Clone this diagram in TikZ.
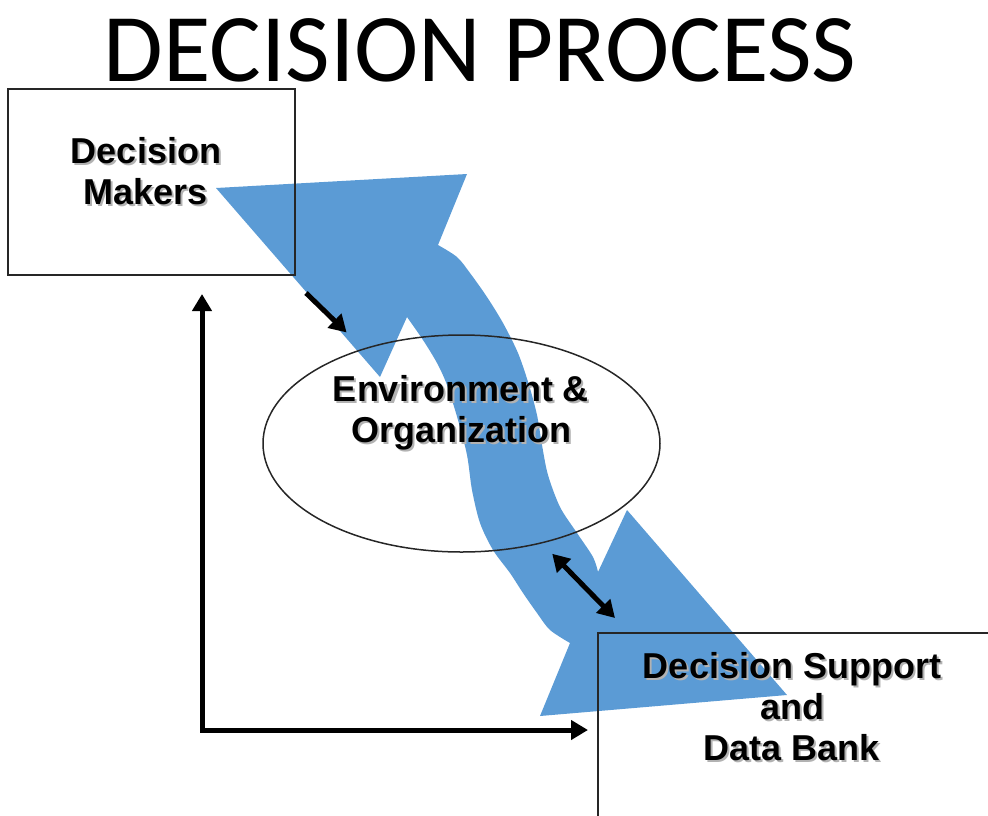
\documentclass[tikz,border=0pt]{standalone}
\usepackage{fontspec}
\setmainfont{Liberation Sans}
\newfontfamily\titlefont{Carlito}
\usetikzlibrary{arrows.meta,positioning,calc,shapes.geometric}
\definecolor{flowblue}{RGB}{91,155,213}
% text with a soft drop shadow
\newcommand{\shtxt}[1]{\leavevmode\rlap{\kern2pt\raisebox{-2pt}{\textcolor{black!30}{#1}}}#1}

\begin{document}
\begin{tikzpicture}[x=1pt,y=-1pt,
box/.style={rectangle,draw=black!85,line width=2pt,inner sep=0pt},
ring/.style={ellipse,draw=black!85,line width=1.5pt,inner sep=0pt},
lbl/.style={align=center,inner sep=0pt,anchor=north,font=\bfseries\fontsize{36}{41}\selectfont},
link/.style={line width=5pt,-{Triangle[width=19pt,length=17pt]}},
twoway/.style={line width=5pt,{Triangle[width=19pt,length=17pt]}-{Triangle[width=19pt,length=17pt]}}]
\useasboundingbox (0,0) rectangle (988,815);
\node[inner sep=0pt,anchor=north,font=\titlefont\fontsize{97}{100}\selectfont] (title) at (480,18) {DECISION PROCESS};
% curved two-headed band
\fill[flowblue] (216,188) -- (467,174) -- (438,245)
  -- plot[smooth] coordinates {(438,245) (457,257) (470,273) (487,297) (503,323) (518,353) (529,385) (537,415) (542,445) (548,475) (560,507) (577,533) (593,557) (598,572)}
  -- (627,510) -- (787,695) -- (540,716) -- (570,643)
  -- plot[smooth] coordinates {(570,643) (550,630) (537,613) (523,593) (510,573) (493,550) (480,523) (472,490) (467,455) (458,420) (447,385) (437,363) (423,340) (407,317)}
  -- (380,377) -- cycle;
\node[box,minimum width=287pt,minimum height=186pt] (dm) at (151.5,182) {};
\node[lbl] (dmtext) at (146,137) {\shtxt{Decision}\\\shtxt{Makers}};
\node[ring,minimum width=397pt,minimum height=217pt] (env) at (461.5,443.5) {};
\node[lbl] (envtext) at (461,375) {\shtxt{Environment \&}\\\shtxt{Organization}};
\node[box,minimum width=420pt,minimum height=194pt,anchor=north west] (ds) at (597,632) {};
\node[lbl] (dstext) at (792,652) {\shtxt{Decision Support}\\\shtxt{and}\\\shtxt{Data Bank}};
\draw[link,shorten >=23pt] ([shift={(10pt,-17pt)}]dm.south east) -- (env.136);
\draw[twoway] ([yshift=-13pt]env.-47) -- ([shift={(18pt,14pt)}]ds.north west);
\draw[twoway] ([shift={(50.5pt,-18pt)}]dm.south) |- ([xshift=-9pt]ds.west);
\end{tikzpicture}
\end{document}
